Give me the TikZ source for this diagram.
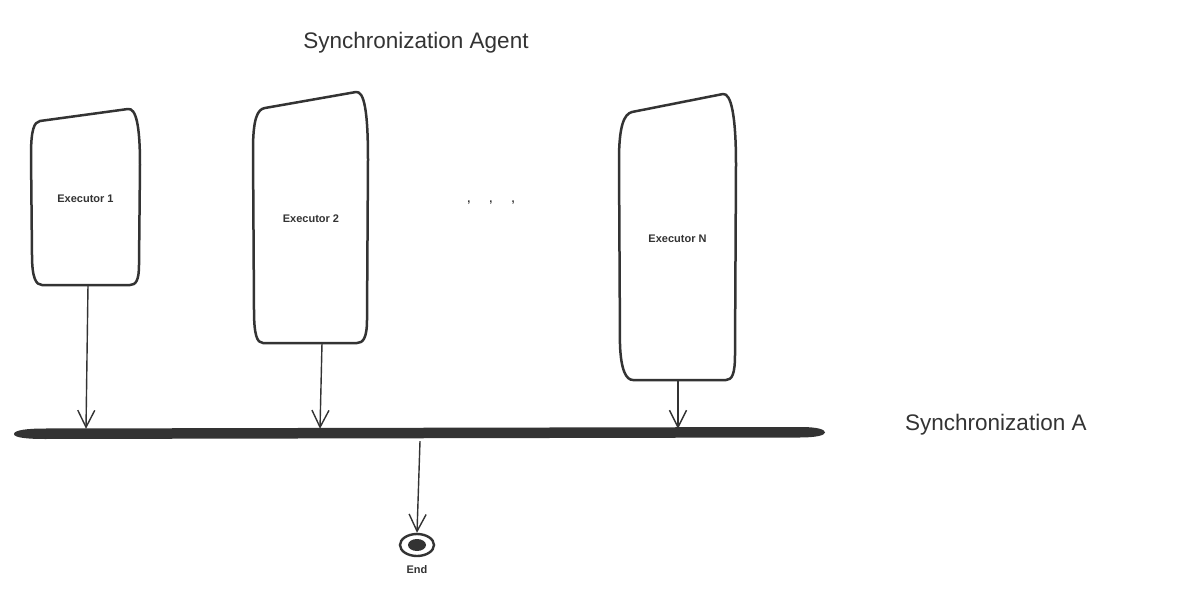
\documentclass[tikz,border=0pt]{standalone}
\usepackage{fontspec}
\setmainfont{Liberation Sans}
\usetikzlibrary{arrows.meta,shapes.geometric}
\definecolor{ink}{HTML}{333333}
\tikzset{
  execshape/.style={draw=ink, line width=2.5pt, line join=round},
  execlabel/.style={font=\fontsize{11}{13}\selectfont\bfseries, text=ink, inner sep=0pt},
  arr/.style={draw=ink, line width=1.4pt, -{Straight Barb[length=17pt,width=17pt,line width=1.4pt]}},
  bigtext/.style={font=\fontsize{22.5}{27}\selectfont, text=ink, inner sep=0pt},
}
\begin{document}
\begin{tikzpicture}[x=1pt,y=-1pt]
\useasboundingbox (0,0) rectangle (1200,599);
\fill[white] (0,0) rectangle (1200,599);

% title
\node[bigtext] (title) at (416,43) {Synchronization Agent};
\node[bigtext, anchor=west] (synca) at (905,424.5) {Synchronization A};

% Executor 1
\draw[execshape] (40,121) -- (128,109) .. controls (136,108) and (140,125) .. (140,165)
  -- (139,265) .. controls (139,280) and (136,285) .. (130,285) -- (42,285)
  .. controls (36,285) and (32,278) .. (32,255) -- (31,155)
  .. controls (31,130) and (34,122) .. (40,121) -- cycle;
\node[execlabel, minimum width=109pt, minimum height=176pt] (e1) at (85.5,197) {};
\node[execlabel] (e1t) at (85.5,199) {Executor 1};

% Executor 2
\draw[execshape] (265,108) -- (356,92) .. controls (364,91) and (368,110) .. (368,160)
  -- (367,320) .. controls (367,338) and (363,343) .. (357,343) -- (263,343)
  .. controls (257,343) and (254,335) .. (254,310) -- (253,150)
  .. controls (253,120) and (257,109) .. (265,108) -- cycle;
\node[execlabel, minimum width=115pt, minimum height=251pt] (e2) at (310.5,217.5) {};
\node[execlabel] (e2t) at (311,219) {Executor 2};

% Executor N
\draw[execshape] (632,112) -- (723,94) .. controls (731,93) and (736,115) .. (736,165)
  -- (735,355) .. controls (735,374) and (732,380) .. (726,380) -- (633,380)
  .. controls (626,380) and (621,370) .. (620,345) -- (619,160)
  .. controls (619,126) and (624,114) .. (632,112) -- cycle;
\node[execlabel, minimum width=118pt, minimum height=286pt] (en) at (677,237) {};
\node[execlabel] (ent) at (677.5,238.5) {Executor N};

% dots
\node[execlabel] (dots) at (491,203) {,\hspace{19pt},\hspace{19pt},};

% bar
\fill[ink] (14,434) .. controls (14,430) and (28,428.5) .. (45,428.5) -- (800,427)
  .. controls (818,427) and (825,429.5) .. (825,432.5)
  .. controls (825,435.5) and (815,437.5) .. (800,437.5) -- (45,439)
  .. controls (26,439) and (14,437.5) .. (14,434) -- cycle;
\node[minimum width=811pt, minimum height=8pt, inner sep=0pt] (bar) at (419.5,433) {};

% end
\node[draw=ink, ellipse, line width=2.4pt, minimum width=34pt, minimum height=22pt, inner sep=0pt] (end) at (417,545) {};
\fill[ink] (end.center) ellipse [x radius=9pt, y radius=6pt];
\node[execlabel] (endlabel) at (417,570) {End};

% connectors
\draw[arr] ([xshift=2.5pt]e1.south) -- ([xshift=0.5pt]e1.south |- bar.north);
\draw[arr] ([xshift=11.5pt]e2.south) -- ([xshift=9.5pt]e2.south |- bar.north);
\draw[arr] ([xshift=1pt]en.south) -- ([xshift=1pt]en.south |- bar.north);
\draw[arr] ([xshift=0.5pt,yshift=-4pt]bar.south) -- (end.north);
\end{tikzpicture}
\end{document}
